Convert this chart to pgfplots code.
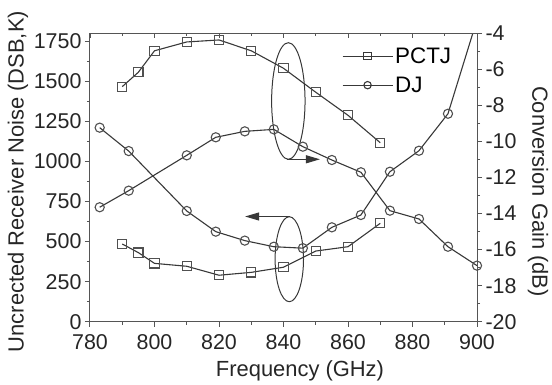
\documentclass[border=0pt]{standalone}
\usepackage{pgfplots}
\pgfplotsset{compat=1.18}
\usetikzlibrary{arrows.meta}
\usepackage{fontspec}
\setmainfont{Liberation Sans}
\definecolor{ln}{HTML}{383838}
\definecolor{mk}{HTML}{505050}
\definecolor{ax}{HTML}{555555}
\pgfplotsset{
  base/.style={
    width=387bp, height=288.4bp, scale only axis,
    xmin=780, xmax=900,
    axis line style={ax, line width=1bp},
    every tick/.style={ax, line width=1bp},
    major tick length=5bp, minor tick length=3bp,
    tick label style={font=\fontsize{21.5}{25}\selectfont, text=black!85},
    yticklabel style={inner ysep=0.5bp},
    xticklabel style={yshift=-4bp},
    label style={font=\fontsize{22}{26}\selectfont, text=black!85},
  },
  pl/.style={color=ln, line width=1.1bp, mark size=4.6bp, mark options={mk, line width=1.1bp, solid, fill=white}},
}
\begin{document}
\begin{tikzpicture}
\path[use as bounding box] (-90bp,-63.3bp) rectangle (462bp,321.7bp);
% left axis: noise
\begin{axis}[base,
  axis x line*=bottom, axis y line*=left, tick align=outside,
  ymin=0, ymax=1800,
  xtick={780,800,...,900}, minor x tick num=1,
  xticklabels={780,800,820,840,860,880,900},
  ytick={0,250,...,1750}, minor y tick num=1,
  yticklabels={0,250,500,750,1000,1250,1500,1750},
  xlabel={Frequency (GHz)},
  ylabel={Uncrected Receiver Noise (DSB,K)},
  xlabel style={at={(axis description cs:0.5426,-0.1917)}, anchor=base},
  ylabel style={at={(axis description cs:-0.186,0.486)}, anchor=center},
]
\addplot[pl, mark=square] coordinates {(790,485)(795,431)(800,364)(810,346)(820,290)(830,308)(840,340)(850,441)(860,468)(870,614)};
\addplot[pl, mark=o] coordinates {(783,1211)(792,1065)(810,691)(819,562)(828,506)(837,468)(846,459)(855,589)(864,666)(873,936)(882,1067)(891,1298)(900,1885)};
\draw[ln, line width=1bp] (axis cs:841.5,1377.5) ellipse [x radius=16.7bp, y radius=58.3bp];
\draw[ln, line width=1bp] (axis cs:841.8,390) ellipse [x radius=14.2bp, y radius=42.5bp];
\draw[ln, line width=1bp, -{Triangle[length=14bp,width=8bp]}] (axis cs:841.0,1013.6) -- (axis cs:851.3,1013.6);
\draw[ln, line width=1bp, -{Triangle[length=14bp,width=8bp]}] (axis cs:842.0,656.6) -- (axis cs:828.1,656.6);
\end{axis}
% right axis: gain
\begin{axis}[base,
  axis x line=none, axis y line*=right, tick align=outside,
  ymin=-20, ymax=-4,
  ytick={-20,-18,...,-4}, minor y tick num=1,
  yticklabels={-20,-18,-16,-14,-12,-10,-8,-6,-4},
  ylabel={Conversion Gain (dB)},
  ylabel style={at={(axis description cs:1.1576,0.4515)}, anchor=center, rotate=180},
  legend style={draw=none, fill=none, at={(axis description cs:0.643,0.965)}, anchor=north west,
    font=\fontsize{22.5}{26}\selectfont, row sep=8bp},
  legend cell align=left,
  legend image code/.code={\draw[mark repeat=2,mark phase=2,mark options={scale=0.8}] plot coordinates {(0bp,0bp)(25bp,0bp)(50bp,0bp)};},
]
\addplot[pl, mark=square] coordinates {(790,-6.96)(795,-6.16)(800,-4.97)(810,-4.48)(820,-4.37)(830,-4.97)(840,-5.94)(850,-7.27)(860,-8.55)(870,-10.07)};
\addlegendentry{PCTJ}
\addplot[pl, mark=o] coordinates {(783,-13.65)(792,-12.73)(810,-10.77)(819,-9.77)(828,-9.44)(837,-9.33)(846,-10.29)(855,-11.03)(864,-11.71)(873,-13.84)(882,-14.30)(891,-15.84)(900,-16.89)};
\addlegendentry{DJ}
\end{axis}
% top axis
\begin{axis}[base,
  axis x line*=top, axis y line=none, tick align=inside,
  ymin=0, ymax=1,
  xtick={780,800,...,900}, minor x tick num=1, xticklabels={},
]
\end{axis}
\end{tikzpicture}
\end{document}
